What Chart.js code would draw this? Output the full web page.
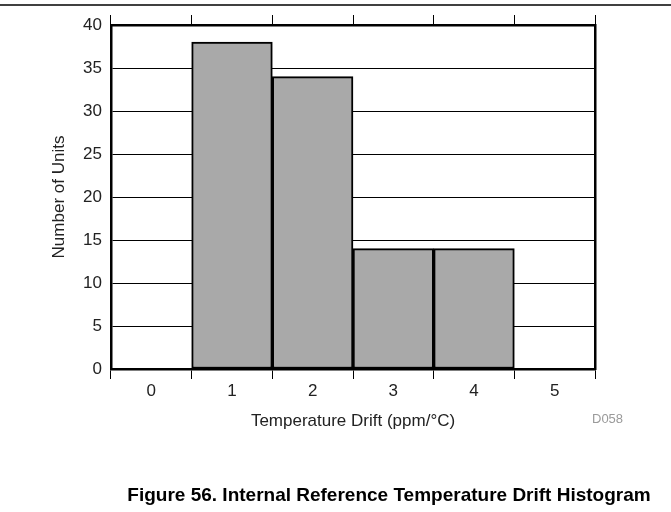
<!DOCTYPE html>
<html>
<head>
<meta charset="utf-8">
<script src="https://cdn.jsdelivr.net/npm/chart.js@4/dist/chart.umd.min.js"></script>
<style>
  html, body { margin: 0; padding: 0; background: #fff; }
  canvas { display: block; }
</style>
</head>
<body>
<canvas id="hist" width="671" height="512"></canvas>
<script>
// histogram bins (ppm/°C) and unit counts
const bins = ['0', '1', '2', '3', '4', '5'];
const units = [0, 38, 34, 14, 14, 0];
const yMax = 40;
const yStep = 5;

const fontFam = "'Liberation Sans', Arial, sans-serif";

// extra drawing: rule at the top, figure id and caption
const extras = {
  id: 'extras',
  afterDraw(chart) {
    const ctx = chart.ctx;
    ctx.save();
    ctx.strokeStyle = '#000';
    ctx.lineWidth = 1.5;
    ctx.beginPath();
    ctx.moveTo(0, 5);
    ctx.lineTo(chart.width, 5);
    ctx.stroke();

    ctx.fillStyle = '#9a9a9a';
    ctx.font = '13px ' + fontFam;
    ctx.textAlign = 'left';
    ctx.textBaseline = 'alphabetic';
    ctx.fillText('D058', 592, 423);

    ctx.fillStyle = '#000';
    ctx.font = 'bold 19px ' + fontFam;
    ctx.textAlign = 'center';
    ctx.fillText('Figure 56. Internal Reference Temperature Drift Histogram', 389, 501);
    ctx.restore();
  }
};

new Chart(document.getElementById('hist'), {
  type: 'bar',
  data: {
    labels: bins,
    datasets: [{
      data: units,
      backgroundColor: '#a9a9a9',
      borderColor: '#000',
      borderWidth: 2,
      borderSkipped: false,
      barPercentage: 1,
      categoryPercentage: 1
    }]
  },
  options: {
    responsive: false,
    animation: false,
    layout: { padding: { top: 15, right: 76, bottom: 80, left: 0 } },
    plugins: { legend: { display: false }, tooltip: { enabled: false } },
    scales: {
      x: {
        position: 'bottom',
        grid: { offset: true, drawOnChartArea: false, tickLength: 10, color: '#000', lineWidth: 1 },
        border: { color: '#000', width: 2.5 },
        ticks: { color: '#222', font: { family: fontFam, size: 17 }, padding: 2 },
        title: {
          display: true, text: 'Temperature Drift (ppm/°C)', color: '#222',
          font: { family: fontFam, size: 17 }, padding: 0
        },
        afterFit(scale) { scale.height = 63; }
      },
      xTop: {
        type: 'category',
        position: 'top',
        display: true,
        labels: bins,
        grid: { offset: true, drawOnChartArea: false, tickLength: 10, color: '#000', lineWidth: 1 },
        border: { color: '#000', width: 2.5 },
        ticks: { display: false }
      },
      y: {
        min: 0,
        max: yMax,
        ticks: { stepSize: yStep, color: '#222', font: { family: fontFam, size: 17 }, padding: 9 },
        grid: { color: '#000', lineWidth: 1, drawTicks: false },
        border: { color: '#000', width: 2.5 },
        title: {
          display: true, text: 'Number of Units', color: '#222',
          font: { family: fontFam, size: 17 }, padding: { top: 49, bottom: 0 }
        },
        afterFit(scale) { scale.width = 111; }
      },
      yRight: {
        position: 'right',
        display: true,
        min: 0,
        max: yMax,
        grid: { drawOnChartArea: false, drawTicks: false },
        border: { color: '#000', width: 2.5 },
        ticks: { display: false }
      }
    }
  },
  plugins: [extras]
});
</script>
</body>
</html>
